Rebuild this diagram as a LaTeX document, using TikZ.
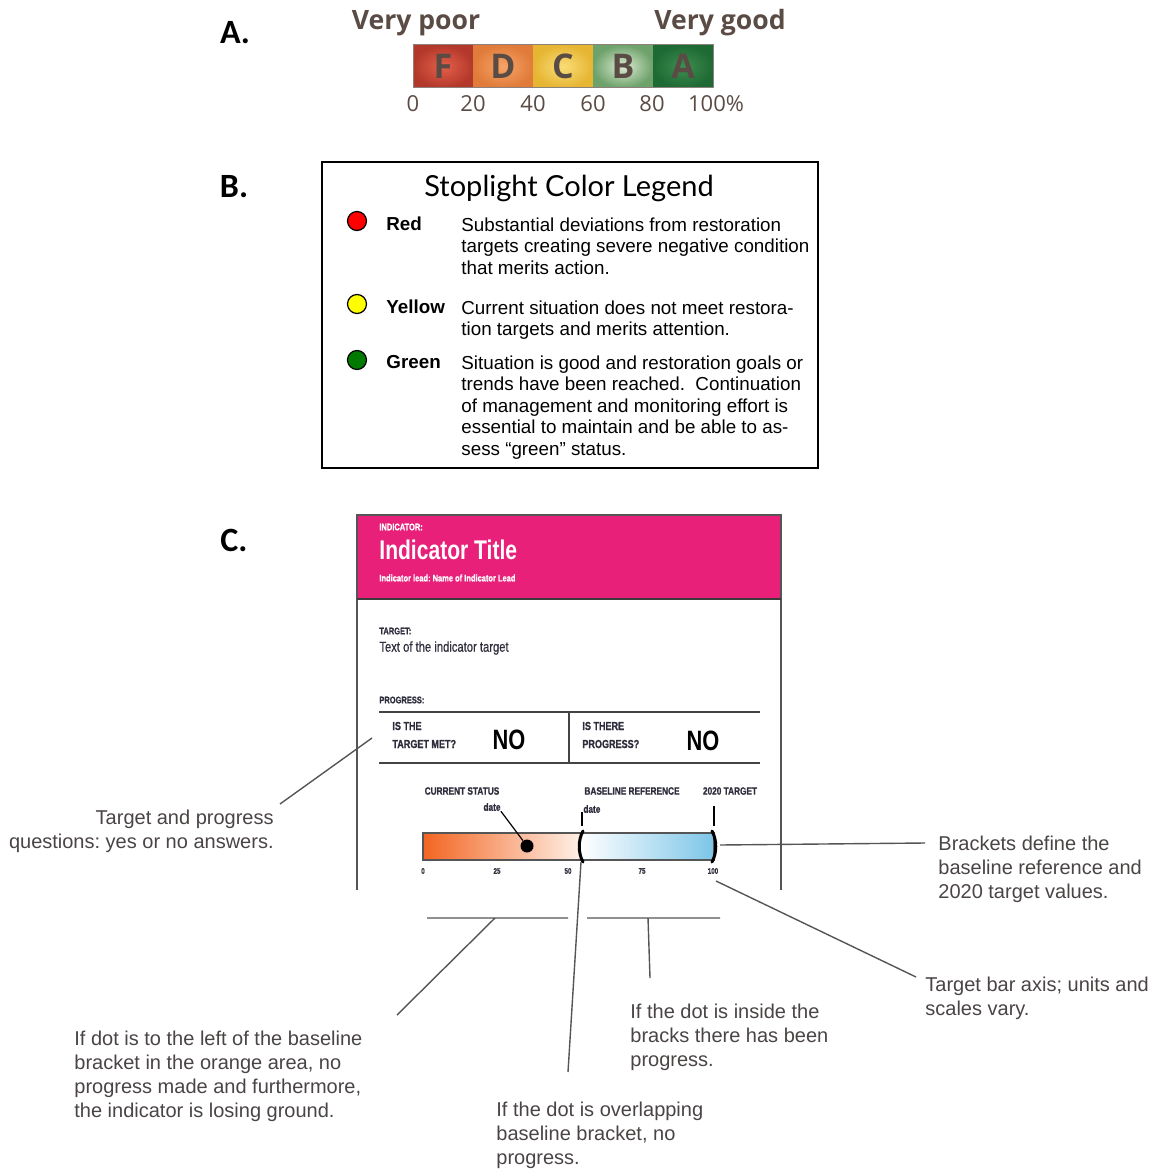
\documentclass[tikz,border=0pt]{standalone}
\usepackage{fontspec}
\setmainfont{Liberation Sans}
\newfontfamily\gradefont{Open Sans}
\newfontfamily\titlefont{Lato}
\newfontfamily\labelfont{Carlito}
\newfontfamily\cardfont[FakeStretch=0.78]{Liberation Sans}
\frenchspacing

\definecolor{gradeInk}{HTML}{5B4B45}
\definecolor{gradeinF}{HTML}{E4604A}\definecolor{gradeoutF}{HTML}{B3382B}
\definecolor{gradeinD}{HTML}{F7A466}\definecolor{gradeoutD}{HTML}{E07B3A}
\definecolor{gradeinC}{HTML}{F9DD78}\definecolor{gradeoutC}{HTML}{E6B532}
\definecolor{gradeinB}{HTML}{DCEBD2}\definecolor{gradeoutB}{HTML}{6EA26B}
\definecolor{gradeinA}{HTML}{3E8E50}\definecolor{gradeoutA}{HTML}{1E6A34}
\definecolor{lampRed}{HTML}{FF0000}
\definecolor{lampYellow}{HTML}{FFFF00}
\definecolor{lampGreen}{HTML}{007A00}
\definecolor{cardPink}{HTML}{E8207A}
\definecolor{cardInk}{HTML}{2D2D3C}
\definecolor{cardEdge}{HTML}{555555}
\definecolor{barOrange}{HTML}{F26522}
\definecolor{barPeach}{HTML}{FFF1E8}
\definecolor{barBlue}{HTML}{7CC5E8}
\definecolor{noteInk}{HTML}{4A4444}
\definecolor{lineGray}{HTML}{555555}

\begin{document}
\begin{tikzpicture}[x=0.5pt, y=-0.5pt,
  seclabel/.style={font=\labelfont\bfseries\fontsize{17}{20}\selectfont},
  gradeword/.style={text=gradeInk, font=\gradefont\bfseries\fontsize{13.3}{16}\selectfont},
  gradeletter/.style={text=gradeInk, font=\gradefont\bfseries\fontsize{17}{20}\selectfont},
  gradenum/.style={text=gradeInk, font=\gradefont\fontsize{11}{13}\selectfont},
  lamp/.style={circle, draw, line width=0.6pt, minimum size=9.5pt, inner sep=0pt},
  legname/.style={anchor=west, inner sep=0pt, font=\bfseries\fontsize{9.4}{10.75}\selectfont},
  legtext/.style={anchor=north west, inner sep=0pt, align=left, font=\fontsize{9.4}{10.75}\selectfont},
  cardtiny/.style={anchor=west, inner sep=0pt, text=cardInk, font=\cardfont\bfseries\addfontfeature{FakeBold=1.2}\fontsize{4.8}{5}\selectfont},
  cardask/.style={anchor=west, inner sep=0pt, text=cardInk, font=\cardfont\bfseries\addfontfeature{FakeBold=1}\fontsize{5.8}{6}\selectfont},
  cardno/.style={inner sep=0pt, text=black, font=\cardfont\bfseries\fontsize{14}{16}\selectfont},
  barhead/.style={inner sep=0pt, text=cardInk, font=\cardfont\bfseries\addfontfeature{FakeBold=1}\fontsize{5.3}{6}\selectfont},
  axisnum/.style={inner sep=0pt, text=cardInk, font=\cardfont\bfseries\addfontfeature{FakeBold=1.2}\fontsize{4}{5}\selectfont},
  bracket/.style={line width=1.5pt, line cap=round},
  callout/.style={draw=lineGray, line width=0.7pt},
  note/.style={inner sep=0pt, align=left, text=noteInk, font=\fontsize{10}{12}\selectfont}]
  \useasboundingbox (0,0) rectangle (1151,1170);

  % A. grade scale
  \node[seclabel] (labA) at (235,33) {A.};
  \node[gradeword] (poor) at (416,23) {Very poor};
  \node[gradeword] (good) at (720,23) {Very good};
  \foreach \g [count=\i from 0] in {F,D,C,B,A} {
    \path[inner color=gradein\g, outer color=gradeout\g] (413+60*\i,45) rectangle ++(60,43);
    \node[gradeletter] (grade\g) at (443+60*\i,66) {\g};
  }
  \draw[gradeInk!70, line width=0.5pt] (413,45) rectangle (713,88);
  \foreach \v/\x in {0/413,20/473,40/533,60/593,80/652}
    \node[gradenum] (num\v) at (\x,104) {\v};
  \node[gradenum] (num100) at (716,104) {100\%};

  % B. stoplight legend
  \node[seclabel] (labB) at (234,187) {B.};
  \draw[line width=1pt] (322,162) rectangle (818,468);
  \node[font=\titlefont\fontsize{14.5}{16}\selectfont] (legtitle) at (569,188) {Stoplight Color Legend};
  \path node (lampred)    at (357,221) [lamp, fill=lampRed] {}
        node (lampyellow) at (357,304) [lamp, fill=lampYellow] {}
        node (lampgreen)  at (357,360) [lamp, fill=lampGreen] {};
  \node[legname] (namered)    at (386,224) {Red};
  \node[legname] (nameyellow) at (386,307) {Yellow};
  \node[legname] (namegreen)  at (386,362) {Green};
  \node[legtext] (descred) at (461,217) {Substantial deviations from restoration\\targets creating severe negative condition\\that merits action.};
  \node[legtext] (descyellow) at (461,300) {Current situation does not meet restora-\\tion targets and merits attention.};
  \node[legtext] (descgreen) at (461,355) {Situation is good and restoration goals or\\trends have been reached.\ \ Continuation\\of management and monitoring effort is\\essential to maintain and be able to as-\\sess “green” status.};

  % C. indicator card
  \node[seclabel] (labC) at (234,540) {C.};
  \fill[cardPink] (357,515) rectangle (781,599);
  \draw[cardEdge, line width=1pt] (357,890) -- (357,515) -- (781,515) -- (781,890);
  \draw[cardEdge!70!black, line width=1.2pt] (357,599) -- (781,599);
  \node[cardtiny, text=white] (kind) at (379,527) {INDICATOR:};
  \node[anchor=west, inner sep=0pt, text=white, font=\cardfont\bfseries\fontsize{13.5}{15}\selectfont] (title) at (379,550) {Indicator Title};
  \node[cardtiny, text=white] (lead) at (379,578) {Indicator lead: Name of Indicator Lead};
  \node[cardtiny] (target) at (379,631) {TARGET:};
  \node[anchor=west, inner sep=0pt, text=cardInk, font=\cardfont\addfontfeature{FakeBold=0.6}\fontsize{7.2}{8}\selectfont] (targettext) at (379,648) {Text of the indicator target};
  \node[cardtiny] (progress) at (379,700) {PROGRESS:};
  \draw[cardEdge!80!black, line width=0.8pt] (379,712) -- (760,712) (379,763) -- (760,763) (569,712) -- (569,763);
  \node[cardask] (askmet1) at (392,726) {IS THE};
  \node[cardask] (askmet2) at (392,744) {TARGET MET?};
  \node[cardno] (nomet) at (509,740) {NO};
  \node[cardask] (askprog1) at (582,726) {IS THERE};
  \node[cardask] (askprog2) at (582,744) {PROGRESS?};
  \node[cardno] (noprog) at (703,741) {NO};
  \node[barhead] (current) at (462,791) {CURRENT STATUS};
  \node[barhead] (datenow) at (492,807) {date};
  \node[barhead] (baseline) at (632,791) {BASELINE REFERENCE};
  \node[barhead, anchor=west] (datebase) at (583,809) {date};
  \node[barhead] (goal) at (730,791) {2020 TARGET};
  \shade[left color=barOrange, right color=barPeach] (423,833) rectangle (581,860);
  \shade[left color=white, right color=barBlue] (581,833) rectangle (714,860);
  \draw[cardEdge, line width=0.6pt] (423,833) rectangle (714,860);
  \draw[bracket] (583,831) .. controls (578,840) and (578,853) .. (583,862);
  \draw[bracket] (712,831) .. controls (717,840) and (717,853) .. (712,862);
  \draw[line width=0.8pt] (582,812) -- (582,826) (714,806) -- (714,826);
  \node[circle, fill=black, minimum size=6.5pt, inner sep=0pt] (dot) at (527,846) {};
  \draw[line width=0.6pt] (dot) -- (datenow.south east);
  \foreach \v/\x in {0/423,25/497,50/568,75/642,100/713}
    \node[axisnum] (axis\v) at (\x,871) {\v};

  % callouts
  \node[note, anchor=north east, align=right] (noteask) at (274,810) {Target and progress\\questions: yes or no answers.};
  \node[note, anchor=north west] (notebrk) at (938,836) {Brackets define the\\baseline reference and\\2020 target values.};
  \node[note, anchor=north west] (noteaxis) at (925,977) {Target bar axis; units and\\scales vary.};
  \node[note, anchor=north west] (noteleft) at (74,1031) {If dot is to the left of the baseline\\bracket in the orange area, no\\progress made and furthermore,\\the indicator is losing ground.};
  \node[note, anchor=north west] (noteinside) at (630,1004) {If the dot is inside the\\bracks there has been\\progress.};
  \node[note, anchor=north west] (noteover) at (496,1102) {If the dot is overlapping\\baseline bracket, no\\progress.};
  \coordinate (askend) at (372,738);
  \coordinate (brkend) at (720,845);
  \coordinate (axisend) at (716,881);
  \coordinate (overend) at (581,862);
  \coordinate (leftA) at (427,918);  \coordinate (leftB) at (568,918);  \coordinate (leftmid) at (495,918);
  \coordinate (insA) at (587,918);   \coordinate (insB) at (720,918);   \coordinate (insmid) at (648,918);
  \draw[callout] (noteask.north east) ++(6,-6) coordinate (askstart) (askstart) -- (askend);
  \draw[callout] (brkend) -- (925,843) coordinate (brkstart);
  \draw[callout] (axisend) -- (916,977) coordinate (axisstart);
  \draw[callout] (overend) -- (568,1072) coordinate (overstart);
  \draw[callout] (leftA) -- (leftB) (leftmid) -- (397,1015) coordinate (leftstart);
  \draw[callout] (insA) -- (insB) (insmid) -- (650,978) coordinate (insstart);
\end{tikzpicture}
\end{document}
